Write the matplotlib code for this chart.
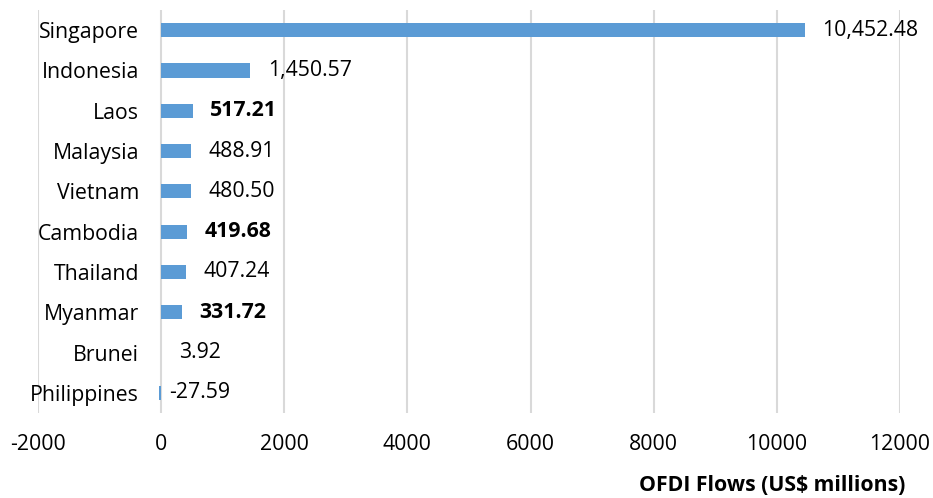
import numpy as np
import matplotlib.pyplot as plt
from matplotlib.transforms import offset_copy

plt.rcParams['font.family'] = ['Open Sans', 'DejaVu Sans']

countries = ["Singapore", "Indonesia", "Laos", "Malaysia", "Vietnam",
             "Cambodia", "Thailand", "Myanmar", "Brunei", "Philippines"]
flows = [10452.48, 1450.57, 517.21, 488.91, 480.50,
         419.68, 407.24, 331.72, 3.92, -27.59]
bold_labels = ["Laos", "Cambodia", "Myanmar"]
x_ticks = [-2000, 0, 2000, 4000, 6000, 8000, 10000, 12000]

FS = 15.3

fig = plt.figure(figsize=(9.33, 4.98), dpi=100)
ax = fig.add_axes([38 / 933, 1 - 413 / 498, 862 / 933, 403 / 498])

y = np.arange(len(countries))
ax.barh(y, flows, height=0.35, color="#5b9bd5", zorder=2)

# value labels just past the end of each bar
for yi, name, v in zip(y, countries, flows):
    weight = "bold" if name in bold_labels else "normal"
    gap = 12.5 if v >= 0 else 6
    tr = offset_copy(ax.transData, fig=fig, x=gap, y=0, units="points")
    ax.text(max(v, 0), yi, f"{v:,.2f}", va="center", ha="left",
            fontsize=FS, fontweight=weight, color="black", transform=tr, zorder=3)

ax.set_xlim(-2000, 12000)
ax.set_ylim(len(countries) - 0.5, -0.5)

# category axis sits at zero, labels left of it
ax.spines["left"].set_position(("data", 0))
for s in ax.spines.values():
    s.set_visible(False)

ax.set_xticks(x_ticks)
ax.set_xticklabels([str(t) for t in x_ticks])
ax.set_yticks(y)
ax.set_yticklabels(countries)
ax.tick_params(axis="both", length=0, labelsize=FS)
ax.tick_params(axis="x", pad=15)
ax.tick_params(axis="y", pad=16)

ax.grid(axis="x", color="#d9d9d9", linewidth=1.5, zorder=0)

fig.text(905 / 933, 1 - 485 / 498, "OFDI Flows (US$ millions)", ha="right",
         va="center", fontsize=FS, fontweight="bold")

fig.savefig("out.png", dpi=100)
